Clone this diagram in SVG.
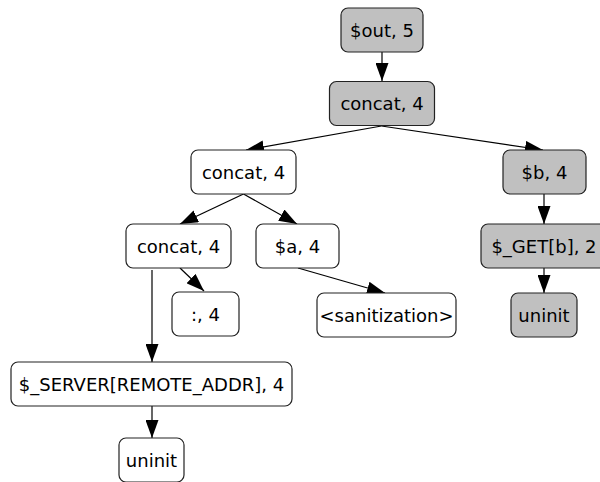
<svg xmlns="http://www.w3.org/2000/svg" width="600" height="482" viewBox="0 0 600 482">
<defs>
<style>
.n rect{stroke:#222;stroke-width:1.2;fill:#fff}
.g rect{fill:#c0c0c0}
.n text{font-family:"DejaVu Sans",sans-serif;font-size:18px;fill:#000;text-anchor:middle}
.e line{stroke:#000;stroke-width:1.2;marker-end:url(#ah)}
</style>
<marker id="ah" markerUnits="userSpaceOnUse" markerWidth="19" markerHeight="13" refX="18" refY="6.5" orient="auto" viewBox="0 0 19 13">
<path d="M0,0 L18,6.5 L0,13 z" fill="#000"/>
</marker>
</defs>
<rect width="600" height="482" fill="#fff"/>
<g id="edges" class="e">
<line x1="382" y1="52" x2="382" y2="81"/>
<line x1="381.5" y1="126" x2="246" y2="150"/>
<line x1="381.5" y1="126" x2="543" y2="150"/>
<line x1="544" y1="194" x2="544" y2="224"/>
<line x1="544" y1="268" x2="544" y2="293"/>
<line x1="243.5" y1="194" x2="180" y2="224"/>
<line x1="243.5" y1="194" x2="297" y2="224"/>
<line x1="180" y1="268" x2="204" y2="291"/>
<line x1="152" y1="270" x2="152" y2="362"/>
<line x1="152" y1="406" x2="152" y2="438"/>
<line x1="298" y1="268" x2="385" y2="293"/>
</g>
<g id="out" class="n g"><rect x="341" y="8" width="82" height="44" rx="7"/><text x="382" y="36.5">$out, 5</text></g>
<g id="concat1" class="n g"><rect x="329.5" y="81.5" width="105" height="44" rx="7"/><text x="382" y="110">concat, 4</text></g>
<g id="b" class="n g"><rect x="503" y="150" width="83" height="44" rx="7"/><text x="544.5" y="178.5">$b, 4</text></g>
<g id="concat2" class="n"><rect x="191" y="150" width="105" height="44" rx="7"/><text x="243.5" y="178.5">concat, 4</text></g>
<g id="concat3" class="n"><rect x="126" y="224" width="105" height="44" rx="7"/><text x="178.5" y="252.5">concat, 4</text></g>
<g id="colon" class="n"><rect x="172" y="292" width="67" height="44" rx="7"/><text x="205.5" y="320.5">:, 4</text></g>
<g id="a" class="n"><rect x="256" y="224" width="83" height="44" rx="7"/><text x="297.5" y="252.5">$a, 4</text></g>
<g id="sanitization" class="n"><rect x="317" y="293" width="139" height="44" rx="7"/><text x="386.5" y="321.5">&lt;sanitization&gt;</text></g>
<g id="get" class="n g"><rect x="481" y="224" width="126" height="44" rx="7"/><text x="544" y="252.5">$_GET[b], 2</text></g>
<g id="uninit1" class="n g"><rect x="511" y="293" width="66" height="44" rx="7"/><text x="544" y="321.5">uninit</text></g>
<g id="server" class="n"><rect x="11" y="362" width="281" height="44" rx="7"/><text x="151.5" y="390.5">$_SERVER[REMOTE_ADDR], 4</text></g>
<g id="uninit2" class="n"><rect x="119" y="438" width="65" height="44" rx="7"/><text x="151.5" y="466.5">uninit</text></g>
</svg>
